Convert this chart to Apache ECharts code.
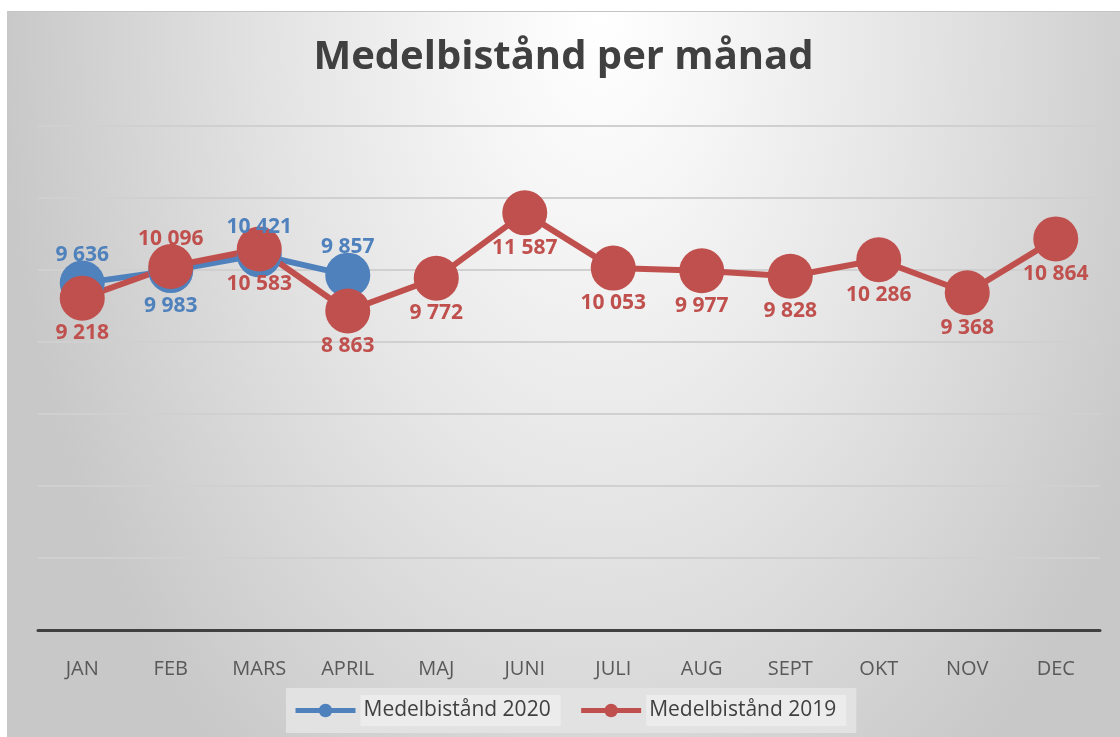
<!DOCTYPE html>
<html>
<head>
<meta charset="utf-8">
<script src="https://cdn.jsdelivr.net/npm/echarts@6/dist/echarts.min.js"></script>
<style>
  html, body { margin: 0; padding: 0; background: #ffffff; }
  #chart {
    position: absolute;
    left: 7px;
    top: 11px;
    width: 1113px;
    height: 726px;
    border-top: 1px solid #c4c4c4;
    box-sizing: border-box;
    background: radial-gradient(ellipse 600px 950px at 593px 8px,
      #ffffff 0%, #f6f6f6 20%, #e6e6e6 50%, #d4d4d4 80%, #c8c8c8 100%);
  }
</style>
</head>
<body>
<div id="chart"></div>
<script>
const months = ["JAN", "FEB", "MARS", "APRIL", "MAJ", "JUNI", "JULI", "AUG", "SEPT", "OKT", "NOV", "DEC"];
const values2020 = [9636, 9983, 10421, 9857];
const values2019 = [9218, 10096, 10583, 8863, 9772, 11587, 10053, 9977, 9828, 10286, 9368, 10864];
const seriesNames = ["Medelbistånd 2020", "Medelbistånd 2019"];

const chart = echarts.init(document.getElementById("chart"));

const fmt = p => String(p.value).replace(/\B(?=(\d{3})+(?!\d))/g, " ");

// which points get their label above the marker, the rest go below
function withLabels(values, aboveIdx) {
  return values.map((v, i) => ({
    value: v,
    label: aboveIdx.indexOf(i) >= 0
      ? { position: "top", distance: -5 }
      : { position: "bottom", distance: 2 }
  }));
}

function lineSeries(name, color, data) {
  return {
    name: name,
    type: "line",
    data: data,
    symbol: "circle",
    symbolSize: 45,
    color: color,
    lineStyle: { width: 6, color: color },
    itemStyle: { color: color },
    label: {
      show: true,
      color: color,
      fontFamily: "Open Sans",
      fontWeight: "bold",
      fontSize: 21,
      formatter: fmt
    },
    emphasis: { disabled: true },
    animation: false
  };
}

chart.setOption({
  backgroundColor: "transparent",
  title: {
    text: "Medelbistånd per månad",
    left: "center",
    top: 21,
    textStyle: {
      fontFamily: "Open Sans",
      fontWeight: "bold",
      fontSize: 40,
      color: "#404040"
    }
  },
  legend: {
    left: 279,
    bottom: 4,
    padding: [7, 10, 7, 7],
    backgroundColor: "#e2e2e2",
    itemWidth: 60,
    itemHeight: 17,
    itemGap: 18,
    lineStyle: { width: 5 },
    textStyle: {
      fontFamily: "Open Sans",
      fontSize: 21,
      color: "#404040",
      backgroundColor: "#ececec",
      padding: [5, 10, 5, 3]
    },
    data: seriesNames
  },
  grid: {
    left: 31,
    right: 20,
    top: 114,
    bottom: 107
  },
  xAxis: {
    type: "category",
    data: months,
    boundaryGap: true,
    axisLine: { lineStyle: { color: "#404040", width: 3 } },
    axisTick: { show: false },
    axisLabel: {
      margin: 29,
      fontFamily: "Open Sans",
      fontSize: 20,
      color: "#595959"
    }
  },
  yAxis: {
    type: "value",
    min: 0,
    max: 14000,
    interval: 2000,
    axisLine: { show: false },
    axisTick: { show: false },
    axisLabel: { show: false },
    splitLine: { lineStyle: { color: "#d0d0d0", width: 2 } }
  },
  series: [
    lineSeries(seriesNames[0], "#4f81bd", withLabels(values2020, [0, 2, 3])),
    lineSeries(seriesNames[1], "#c0504d", withLabels(values2019, [1]))
  ]
});
</script>
</body>
</html>
